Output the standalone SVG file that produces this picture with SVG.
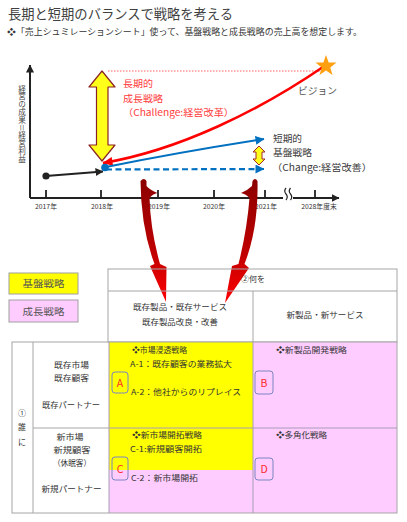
<svg xmlns="http://www.w3.org/2000/svg" width="407" height="522" viewBox="0 0 407 522">
<defs>
<style>
text{font-family:'Noto Sans CJK JP','Noto Sans CJK SC',sans-serif;}
.yr{fill:#333;font-size:6.8px;text-anchor:middle}
.red{fill:#FF3B3B;font-size:9.5px}
.dk{fill:#3A3A3A;font-size:9.5px}
.tk{stroke:#222;stroke-width:1.8}
.grid{stroke:#A6A6A6;stroke-width:1;fill:none}
.cb{stroke:#A89CB8;stroke-width:1;fill:none}
.lb{fill:none;stroke:#7A86C0;stroke-width:1}
.lt{fill:#FF2A2A;font-size:10.5px;text-anchor:middle}
.ct{fill:#333;font-size:8px}
.lab{fill:#333;font-size:8px;text-anchor:middle}
.leg{fill:#555;font-size:9.5px;text-anchor:middle}
</style>
<marker id="mk" markerWidth="8" markerHeight="8" refX="7.5" refY="4" orient="auto" markerUnits="userSpaceOnUse"><path d="M0,0 L8,4 L0,8 Z" fill="#222"/></marker>
<marker id="mb" markerWidth="9" markerHeight="9" refX="8.5" refY="4.5" orient="auto" markerUnits="userSpaceOnUse"><path d="M0,0 L9,4.5 L0,9 Z" fill="#0070C0"/></marker>
<marker id="mr" markerWidth="10" markerHeight="9" refX="9.5" refY="4.5" orient="auto-start-reverse" markerUnits="userSpaceOnUse"><path d="M0,0 L10,4.5 L0,9 Z" fill="#FF0000"/></marker>
<linearGradient id="sw" x1="0" y1="0" x2="0" y2="1">
<stop offset="0" stop-color="#8B0000"/>
<stop offset="0.6" stop-color="#C00000"/>
<stop offset="1" stop-color="#FF0000"/>
</linearGradient>
</defs>
<rect width="407" height="522" fill="#fff"/>

<g id="title">
<text x="8" y="19" font-size="13.6" fill="#404040" textLength="225" lengthAdjust="spacingAndGlyphs">長期と短期のバランスで戦略を考える</text>
</g>
<g id="subtitle">
<text x="7" y="35" font-size="8.6" fill="#333" textLength="355" lengthAdjust="spacingAndGlyphs">❖「売上シュミレーションシート」使って、基盤戦略と成長戦略の売上高を想定します。</text>
</g>

<g id="chart-axes">
<line x1="30" y1="198" x2="30" y2="65" stroke="#222" stroke-width="2" marker-end="url(#mk)"/>
<line x1="30" y1="198" x2="339" y2="198" stroke="#222" stroke-width="2" marker-end="url(#mk)"/>
<line class="tk" x1="46" y1="190" x2="46" y2="198"/>
<line class="tk" x1="101" y1="190" x2="101" y2="198"/>
<line class="tk" x1="158" y1="190" x2="158" y2="198"/>
<line class="tk" x1="214" y1="190" x2="214" y2="198"/>
<line class="tk" x1="265" y1="190" x2="265" y2="198"/>
<line class="tk" x1="315" y1="190" x2="315" y2="198"/>
<rect x="283" y="187" width="10" height="14" fill="#fff"/>
<path d="M286,188 q-2.5,3 0,6 q2.5,3 0,6 M290.5,188 q-2.5,3 0,6 q2.5,3 0,6" fill="none" stroke="#222" stroke-width="1.2"/>
<text class="yr" x="46" y="209">2017年</text>
<text class="yr" x="102" y="209">2018年</text>
<text class="yr" x="159" y="209">2019年</text>
<text class="yr" x="214" y="209">2020年</text>
<text class="yr" x="266" y="209">2021年</text>
<text class="yr" x="319" y="209">2028年度末</text>
<text x="22" y="85" font-size="7.6" fill="#444" letter-spacing="0.2" style="writing-mode:vertical-rl">経営の成果＝経営利益</text>
</g>

<g id="connectors">
<line x1="108" y1="71" x2="320" y2="71" stroke="#FF6060" stroke-width="1" stroke-dasharray="1.5,1.5"/>
<path d="M103,163 C180,150 260,110 323,67" fill="none" stroke="#FF0000" stroke-width="2.6" marker-start="url(#mr)"/>
<path d="M106,167 Q180,152 264,139" fill="none" stroke="#0070C0" stroke-width="2.2" marker-end="url(#mb)"/>
<line x1="106" y1="169.5" x2="264" y2="169" stroke="#0070C0" stroke-width="2.2" stroke-dasharray="6,3.5" marker-end="url(#mb)"/>
<line x1="46" y1="176" x2="103" y2="171.5" stroke="#222" stroke-width="2.2" marker-end="url(#mk)"/>
<circle cx="46" cy="176" r="3.6" fill="#222"/>
<circle cx="105" cy="167.5" r="3.8" fill="#0070C0"/>
<path d="M146.5,181 Q144,177 140.5,181 Q141,228 154.5,264 L150,266 L166,302 L166.5,267 L160,264 Q150.5,230 149.5,198 Q152.5,194 157.5,193 Q150,190 146.5,186 Z" fill="url(#sw)"/>
<path d="M252.5,181 Q255,177 257.5,181 Q258.5,228 244.5,264 L249,268 L225,303 L232,266 L238.5,264 Q247,230 249.5,198 Q246,194 241,193 Q248,190 252,186 Z" fill="url(#sw)"/>
</g>

<g id="vision">
<polygon points="326,55 328.6,62.4 336.5,62.6 330.3,67.4 332.5,74.9 326,70.5 319.5,74.9 321.7,67.4 315.5,62.6 323.4,62.4" fill="#FFA010"/>
<text x="298" y="94" font-size="9.5" fill="#555" textLength="39" lengthAdjust="spacingAndGlyphs">ビジョン</text>
</g>

<g id="long-term">
<polygon points="102,71 115,87 108,87 108,145 115,145 102,161 89,145 96.5,145 96.5,87 89,87" fill="#FFFF1A" stroke="#8B2323" stroke-width="1.2" stroke-linejoin="round"/>
<text class="red" x="123" y="87" textLength="30" lengthAdjust="spacingAndGlyphs">長期的</text>
<text class="red" x="123" y="102" textLength="40" lengthAdjust="spacingAndGlyphs">成長戦略</text>
<text class="red" x="123" y="116" textLength="111" lengthAdjust="spacingAndGlyphs">（Challenge:経営改革）</text>
</g>

<g id="short-term">
<polygon points="259,146 265,152 262,152 262,159 265,159 259,165 253,159 256,159 256,152 253,152" fill="#FFFF1A" stroke="#A02828" stroke-width="1"/>
<text class="dk" x="273" y="141.5" textLength="29" lengthAdjust="spacingAndGlyphs">短期的</text>
<text class="dk" x="273" y="156" textLength="39" lengthAdjust="spacingAndGlyphs">基盤戦略</text>
<text class="dk" x="272" y="170.5" textLength="100" lengthAdjust="spacingAndGlyphs">（Change:経営改善）</text>
</g>

<g id="legend-base">
<rect x="9" y="273" width="69" height="21" fill="#FFFF00" stroke="#A0A0A0" stroke-width="1"/>
<text class="leg" x="43.5" y="287" textLength="42" lengthAdjust="spacingAndGlyphs">基盤戦略</text>
</g>
<g id="legend-growth">
<rect x="9" y="300" width="69" height="22" fill="#FFCCFF" stroke="#A0A0A0" stroke-width="1"/>
<text class="leg" x="43.5" y="314.5" textLength="42" lengthAdjust="spacingAndGlyphs">成長戦略</text>
</g>

<g id="header">
<rect class="grid" x="108" y="269" width="289" height="73"/>
<line class="grid" x1="108" y1="291" x2="397" y2="291"/>
<line class="grid" x1="253" y1="291" x2="253" y2="342"/>
<text class="lab" x="253" y="281.5">②何を</text>
<text class="lab" x="180" y="310" textLength="94" lengthAdjust="spacingAndGlyphs">既存製品・既存サービス</text>
<text class="lab" x="180" y="325" textLength="76" lengthAdjust="spacingAndGlyphs">既存製品改良・改善</text>
<text class="lab" x="325" y="318" textLength="77" lengthAdjust="spacingAndGlyphs">新製品・新サービス</text>
</g>

<g id="cell-A">
<rect x="109" y="342" width="144" height="86" fill="#FFFF00"/>
<rect class="lb" x="112" y="372" width="16" height="21" rx="3"/>
<text class="lt" x="120" y="386.5">A</text>
<text class="ct" x="132" y="353" textLength="55" lengthAdjust="spacingAndGlyphs">❖市場浸透戦略</text>
<text class="ct" x="130" y="367" textLength="102" lengthAdjust="spacingAndGlyphs">A-1：既存顧客の業務拡大</text>
<text class="ct" x="131" y="395" textLength="110" lengthAdjust="spacingAndGlyphs">A-2：他社からのリプレイス</text>
</g>
<g id="cell-B">
<rect x="253" y="342" width="144" height="86" fill="#FFCCFF"/>
<rect class="lb" x="255" y="371" width="18" height="23" rx="3"/>
<text class="lt" x="264" y="386.5">B</text>
<text class="ct" x="276" y="353" textLength="71" lengthAdjust="spacingAndGlyphs">❖新製品開発戦略</text>
</g>
<g id="cell-C">
<rect x="109" y="428" width="144" height="85" fill="#FFCCFF"/>
<rect x="109" y="428" width="144" height="42" fill="#FFFF00"/>
<rect class="lb" x="112" y="457" width="16" height="23" rx="3"/>
<text class="lt" x="120" y="472.5">C</text>
<text class="ct" x="132" y="438" textLength="70" lengthAdjust="spacingAndGlyphs">❖新市場開拓戦略</text>
<text class="ct" x="130" y="452" textLength="72" lengthAdjust="spacingAndGlyphs">C-1:新規顧客開拓</text>
<text class="ct" x="131" y="481" textLength="67" lengthAdjust="spacingAndGlyphs">C-2：新市場開拓</text>
</g>
<g id="cell-D">
<rect x="253" y="428" width="144" height="85" fill="#FFCCFF"/>
<rect class="lb" x="255" y="458" width="18" height="22" rx="3"/>
<text class="lt" x="264" y="473">D</text>
<text class="ct" x="276" y="438" textLength="51" lengthAdjust="spacingAndGlyphs">❖多角化戦略</text>
</g>

<g id="who">
<rect class="grid" x="12" y="342" width="385" height="171"/>
<line class="grid" x1="33" y1="342" x2="33" y2="513"/>
<line class="cb" x1="109" y1="342" x2="109" y2="513"/>
<line class="cb" x1="253" y1="342" x2="253" y2="513"/>
<line class="cb" x1="109" y1="428" x2="397" y2="428"/>
<line class="grid" x1="33" y1="428" x2="109" y2="428"/>
<text class="lab" x="22" y="416">①</text>
<text class="lab" x="22" y="429.5">誰</text>
<text class="lab" x="22" y="445">に</text>
</g>
<g id="row-existing">
<text class="lab" x="71.5" y="368" textLength="35" lengthAdjust="spacingAndGlyphs">既存市場</text>
<text class="lab" x="71.5" y="381" textLength="35" lengthAdjust="spacingAndGlyphs">既存顧客</text>
<text class="lab" x="71" y="408" textLength="58" lengthAdjust="spacingAndGlyphs">既存パートナー</text>
</g>
<g id="row-new">
<text class="lab" x="70" y="440" textLength="27" lengthAdjust="spacingAndGlyphs">新市場</text>
<text class="lab" x="72" y="453" textLength="37" lengthAdjust="spacingAndGlyphs">新規顧客</text>
<text class="lab" x="72" y="466" textLength="38" lengthAdjust="spacingAndGlyphs">（休眠客）</text>
<text class="lab" x="71.5" y="492" textLength="60" lengthAdjust="spacingAndGlyphs">新規パートナー</text>
</g>
</svg>
